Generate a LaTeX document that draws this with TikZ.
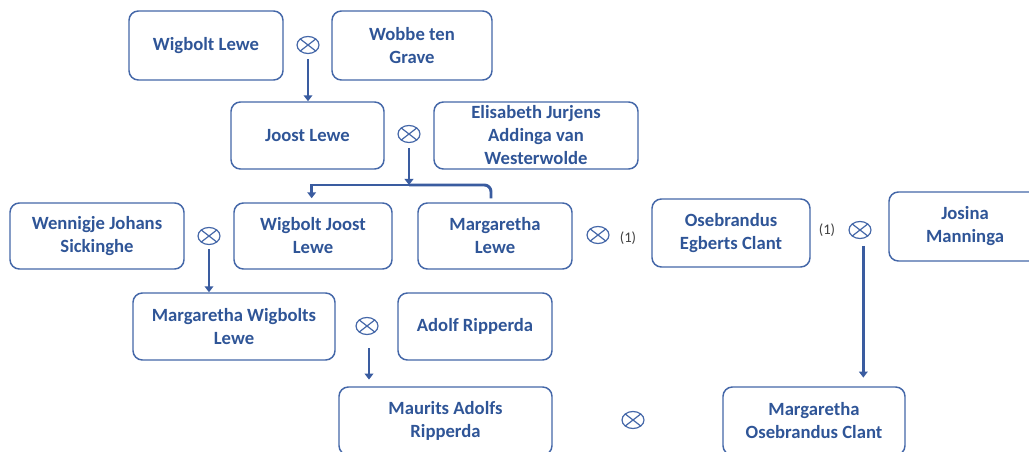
\documentclass[tikz,border=0pt]{standalone}
\usepackage{fontspec}
\setmainfont{Carlito}
\usepackage{xcolor}
\usepackage{tikz}
\usetikzlibrary{shapes,arrows.meta,calc}
\definecolor{boxblue}{RGB}{68,103,168}
\definecolor{txtblue}{RGB}{47,85,151}
\definecolor{lineblue}{RGB}{58,92,160}
\newlength\px
\setlength\px{0.75pt}

\begin{document}
\begin{tikzpicture}[x=0.75pt, y=-0.75pt,
    person/.style={draw=boxblue, line width=1.1pt, rounded corners=7pt, align=center,
        text=txtblue, font=\fontsize{14}{17.25}\selectfont\bfseries, inner sep=0pt},
    marriage/.style={ellipse, draw=boxblue, line width=0.9pt, inner sep=0pt,
        minimum width=22\px, minimum height=17\px,
        path picture={\draw[boxblue, line width=0.9pt]
            (path picture bounding box.north west) -- (path picture bounding box.south east)
            (path picture bounding box.south west) -- (path picture bounding box.north east);}},
    link/.style={draw=lineblue, line width=2.2pt, -{Triangle[width=6.5pt,length=4.5pt]}},
    note/.style={font=\fontsize{11}{13}\selectfont, text=black!75}]
    \useasboundingbox (0,0) rectangle (1029,452);

    % first generation
    \node[person, minimum width=154\px, minimum height=69\px] (wl) at (206,45.5) {Wigbolt Lewe};
    \node[person, minimum width=160\px, minimum height=69\px] (wtg) at (412,45.5) {Wobbe ten\\Grave};
    \node[marriage] (m1) at (308,45) {};

    % second generation
    \node[person, minimum width=153\px, minimum height=67\px] (jl) at (307.5,135.5) {Joost Lewe};
    \node[person, minimum width=204\px, minimum height=67\px] (eja) at (536,135.5) {Elisabeth Jurjens\\Addinga van\\Westerwolde};
    \node[marriage] (m2) at (409,134) {};
    \coordinate (j1) at (409,185);

    % third generation
    \node[person, minimum width=174\px, minimum height=66\px] (wjs) at (97,236) {Wennigje Johans\\Sickinghe};
    \node[person, minimum width=158\px, minimum height=66\px] (wjl) at (313,236) {Wigbolt Joost\\Lewe};
    \node[person, minimum width=154\px, minimum height=66\px] (ml) at (495,236) {Margaretha\\Lewe};
    \node[person, minimum width=158\px, minimum height=68\px] (oec) at (731,233) {Osebrandus\\Egberts Clant};
    \node[person, minimum width=152\px, minimum height=69\px] (jm) at (965,226.5) {Josina\\Manninga};
    \node[marriage] (m3) at (209,236) {};
    \node[marriage] (m4) at (598,235) {};
    \node[marriage] (m5) at (860,230) {};
    \node[note] (n1) at (628,238) {(1)};
    \node[note] (n2) at (827,230) {(1)};

    % fourth generation
    \node[person, minimum width=202\px, minimum height=67\px] (mwl) at (234,326.5) {Margaretha Wigbolts\\Lewe};
    \node[person, minimum width=154\px, minimum height=67\px] (ar) at (475,326.5) {Adolf Ripperda};
    \node[marriage] (m6) at (367,326) {};

    % fifth generation
    \node[person, minimum width=213\px, minimum height=68\px] (mar) at (445.5,421) {Maurits Adolfs\\Ripperda};
    \node[person, minimum width=182\px, minimum height=68\px] (moc) at (814,421) {Margaretha\\Osebrandus Clant};
    \node[marriage] (m7) at (633,420) {};

    % descent lines
    \draw[link, shorten <=4pt] (m1.south) -- (m1.south |- jl.north);
    \draw[link, shorten <=4pt] (m2.south) -- (j1);
    \draw[link, shorten >=3pt] (j1) -| ([xshift=-1pt]wjl.north);
    \draw[lineblue, line width=2.2pt, rounded corners=5pt] (j1) -| ([xshift=-3pt,yshift=3pt]ml.north);
    \draw[link, shorten <=3pt] (m3.south) -- (m3.south |- mwl.north);
    \draw[link, shorten <=10pt, shorten >=5pt] ([xshift=1.5pt]m6.south) -- ([xshift=1.5pt]m6.south |- mar.north);
    \draw[link, shorten <=5pt, shorten >=6.5pt] ([xshift=2.5pt]m5.south) -- ([xshift=2.5pt]m5.south |- moc.north);
\end{tikzpicture}
\end{document}
